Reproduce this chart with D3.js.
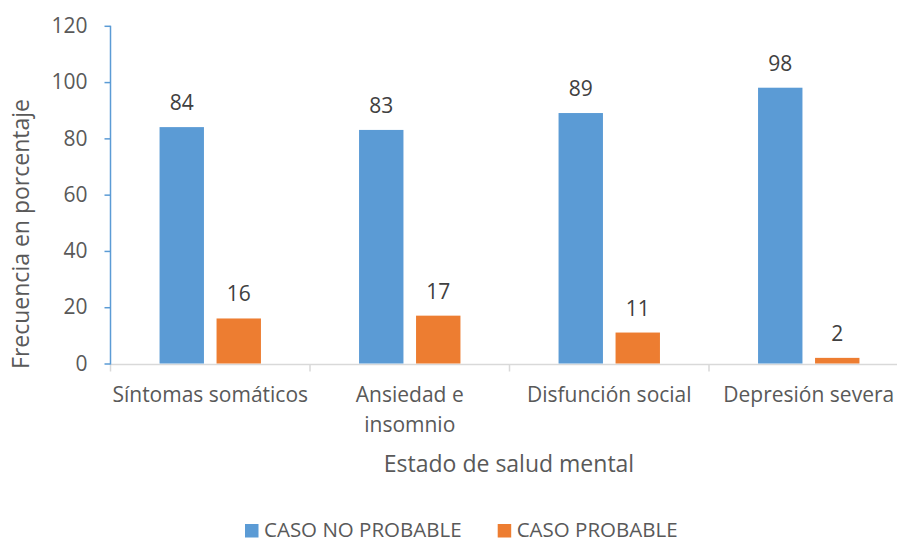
<!DOCTYPE html>
<html>
<head>
<meta charset="utf-8">
<script src="https://cdn.jsdelivr.net/npm/d3@7"></script>
<style>
  body { margin: 0; background: #fff; }
  text { font-family: "Open Sans", "Liberation Sans", sans-serif; }
</style>
</head>
<body>
<div id="chart"></div>
<script>
var categories = [["Síntomas somáticos"], ["Ansiedad e", "insomnio"], ["Disfunción social"], ["Depresión severa"]];
var seriesNames = ["CASO NO PROBABLE", "CASO PROBABLE"];
var noProbable = [84, 83, 89, 98];
var probable = [16, 17, 11, 2];
var yTicks = [0, 20, 40, 60, 80, 100, 120];
var colors = ["#5b9bd5", "#ed7d31"];

var width = 897, height = 543;
var margin = {top: 25.8, left: 110.5, bottom: 179.5};

var svg = d3.select("#chart")
  .append("svg")
  .attr("width", width)
  .attr("height", height);

var catKeys = categories.map(function(c){ return c.join(" "); });

var x = d3.scaleBand()
  .domain(catKeys)
  .range([margin.left, margin.left + 4 * 199.5])
  .paddingInner(0).paddingOuter(0);

var x1 = d3.scaleBand()
  .domain(seriesNames)
  .range([x.bandwidth() / 2 - 50.7, x.bandwidth() / 2 + 50.7])
  .paddingInner(0.221);

var y = d3.scaleLinear()
  .domain([0, 120])
  .range([height - margin.bottom, margin.top]);

// x axis line (gray) with category ticks
svg.append("line")
  .attr("x1", margin.left).attr("x2", width)
  .attr("y1", y(0) + 1).attr("y2", y(0) + 1)
  .attr("stroke", "#d9d9d9").attr("stroke-width", 1.5);

svg.selectAll(".xtick")
  .data(catKeys)
  .enter().append("line")
  .attr("x1", function(d){ return x(d); })
  .attr("x2", function(d){ return x(d); })
  .attr("y1", y(0) + 1).attr("y2", y(0) + 8)
  .attr("stroke", "#d9d9d9").attr("stroke-width", 1.5);

// y axis
var yAxis = svg.append("g")
  .attr("transform", "translate(" + margin.left + ",0)")
  .call(d3.axisLeft(y).tickValues(yTicks).tickSize(6).tickPadding(17));
yAxis.select(".domain").attr("stroke", "#5b9bd5").attr("stroke-width", 1.5)
  .attr("d", "M0," + y(120) + "V" + (y(0) + 1));
yAxis.selectAll(".tick line").attr("stroke", "#5b9bd5").attr("stroke-width", 1.5);
yAxis.selectAll(".tick text")
  .attr("fill", "#595959")
  .style("font-size", "21px");

// bars
var rows = catKeys.map(function(c, i){
  return {cat: c, vals: [noProbable[i], probable[i]]};
});

var groups = svg.selectAll(".grp")
  .data(rows)
  .enter().append("g")
  .attr("transform", function(d){ return "translate(" + x(d.cat) + ",0)"; });

groups.selectAll("rect")
  .data(function(d){ return d.vals.map(function(v, j){ return {name: seriesNames[j], v: v, j: j}; }); })
  .enter().append("rect")
  .attr("x", function(d){ return x1(d.name); })
  .attr("width", x1.bandwidth())
  .attr("y", function(d){ return y(d.v); })
  .attr("height", function(d){ return y(0) - y(d.v); })
  .attr("fill", function(d){ return colors[d.j]; });

groups.selectAll(".lbl")
  .data(function(d){ return d.vals.map(function(v, j){ return {name: seriesNames[j], v: v}; }); })
  .enter().append("text")
  .attr("x", function(d){ return x1(d.name) + x1.bandwidth() / 2; })
  .attr("y", function(d){ return y(d.v) - 17; })
  .attr("text-anchor", "middle")
  .attr("fill", "#404040")
  .style("font-size", "21px")
  .text(function(d){ return d.v; });

// category labels
var catLabels = svg.selectAll(".cat")
  .data(categories)
  .enter().append("text")
  .attr("text-anchor", "middle")
  .attr("fill", "#595959")
  .style("font-size", "21px")
  .attr("transform", function(d, i){ return "translate(" + (x(catKeys[i]) + x.bandwidth() / 2) + "," + 402 + ")"; });
catLabels.selectAll("tspan")
  .data(function(d){ return d; })
  .enter().append("tspan")
  .attr("x", 0)
  .attr("dy", function(d, i){ return i === 0 ? 0 : 29.5; })
  .text(function(d){ return d; });

// axis titles
svg.append("text")
  .attr("x", 509).attr("y", 471.5)
  .attr("text-anchor", "middle")
  .attr("fill", "#595959")
  .style("font-size", "23px")
  .text("Estado de salud mental");

svg.append("text")
  .attr("transform", "translate(28.5," + 234 + ") rotate(-90)")
  .attr("text-anchor", "middle")
  .attr("fill", "#595959")
  .style("font-size", "23px")
  .text("Frecuencia en porcentaje");

// legend
var legendX = [245, 497.7];
var legend = svg.selectAll(".leg")
  .data(seriesNames)
  .enter().append("g")
  .attr("transform", function(d, i){ return "translate(" + legendX[i] + ",524)"; });
legend.append("rect")
  .attr("width", 13.5).attr("height", 13.5)
  .attr("fill", function(d, i){ return colors[i]; });
legend.append("text")
  .attr("x", 19).attr("y", 13)
  .attr("fill", "#595959")
  .style("font-size", "20.5px")
  .text(function(d){ return d; });
</script>
</body>
</html>
